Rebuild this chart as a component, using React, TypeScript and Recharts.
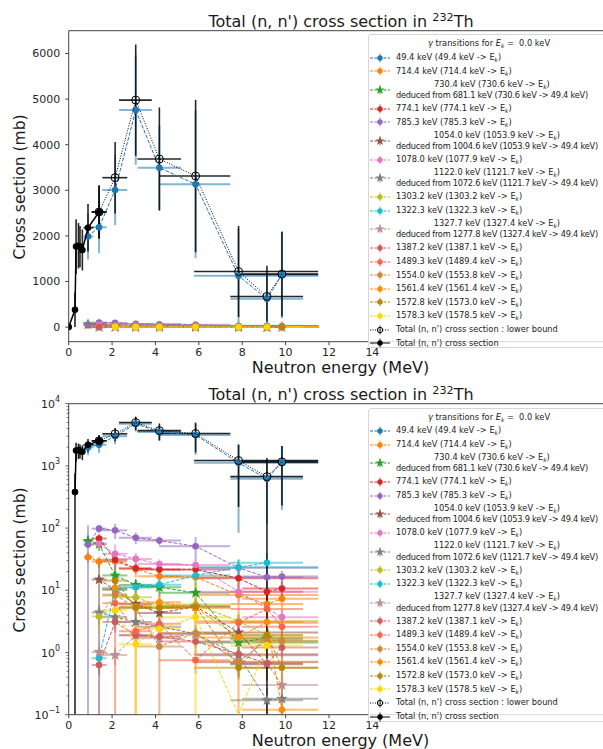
import React from 'react';
import { ScatterChart, Scatter, XAxis, YAxis, ErrorBar, ReferenceLine } from 'recharts';

// neutron energy bins (MeV) used for the gamma-ray cross sections
const energies = [0.89, 1.4, 2.14, 3.09, 4.18, 5.85, 7.83, 9.14, 9.83];
const energyLow = [0.21, 0.34, 0.59, 0.77, 1.01, 1.67, 2.05, 1.69, 1.83];
const energyHigh = [0.25, 0.35, 0.56, 0.74, 1.0, 1.6, 3.67, 1.66, 1.67];

// partial cross sections (mb) and their uncertainties, per gamma transition
const g49 = [1985, 2190, 3007, 4759, 3496, 3131, 1124, 620, 1146];
const e49 = [500, 570, 770, 1200, 930, 1620, 1040, 503, 950];
const g714 = [34, 29, 29, 22, 16.8, 16.2, 8.4, 6.0, 7.3];
const e714 = [7, 6, 8, 6, 4, 5, 9, 2.5, 7.5];
const g730 = [62, 55, 17.3, 12.2, 11.2, 9.1, 1.45, 1.7, null];
const e730 = [15, 12, 6, 3, 3, 4, 0.6, 0.8, null];
const g774 = [null, 68, 31, 22.6, 21.5, 21.5, 15.6, 9.5, 10.7];
const e774 = [null, 12, 8, 4, 4, 5, 5, 3, 3];
const g785 = [54.6, 98, 92, 70, 63, 51, 23, 16.2, 16.6];
const e785 = [56, 15, 25, 15, 10, 21, 8, 4, 4];
const g1054 = [null, 14.9, 10.2, 6.0, 4.3, 5.5, 2.1, 0.65, null];
const e1054 = [null, 16, 3, 2, 1.5, 2, 0.8, 0.3, null];
const g1078 = [null, 56, 38.6, 32, 26.5, 25.5, 9.5, null, 3.7];
const e1078 = [null, 12, 16, 8, 5, 6, 3, null, 1.2];
const g1122 = [null, 4.4, 3.7, 3.1, 2.6, 2.0, 0.9, 0.17, 0.18];
const e1122 = [null, 1.5, 1.2, 1, 0.8, 0.8, 0.4, 0.1, 0.1];
const g1303 = [null, 3.8, 8.2, 7.7, 5.6, 5.9, 3.2, 1.9, 1.5];
const e1303 = [null, 1.5, 2.5, 2, 1.5, 2, 1, 0.7, 0.5];
const g1322 = [null, 0.81, 10.5, 11.2, 12.3, 17.3, 23.5, 27.7, null];
const e1322 = [null, 0.3, 3, 3, 3, 5, 8, 12, null];
const g1327 = [null, 1.02, 0.91, 1.9, 1.7, 2.0, 0.7, 0.67, 0.3];
const e1327 = [null, 0.4, 0.3, 0.6, 0.6, 0.7, 0.3, 0.3, 0.1];
const g1387 = [null, 0.63, 3.1, 1.9, 1.8, 1.5, 0.94, 0.67, 1.2];
const e1387 = [null, 0.2, 1, 0.6, 0.6, 0.5, 0.3, 0.3, 0.4];
const g1489 = [null, null, 6.2, 2.2, 2.9, 0.75, 3.0, 5.0, 2.6];
const e1489 = [null, null, 7, 0.8, 1, 0.3, 1, 1.5, 0.8];
const g1554 = [null, null, 8.5, 5.2, 1.25, 2.05, 0.71, 1.6, 1.55];
const e1554 = [null, null, 2.5, 1.5, 7.5, 0.8, 0.3, 0.6, 0.5];
const g1561 = [null, null, 11, 5.5, 6.4, 5.2, 1.75, 3.1, 0.12];
const e1561 = [null, null, 3, 6, 2, 1.5, 0.6, 1, 0.06];
const g1572 = [null, null, 14.3, 5.3, 5.2, 5.5, 0.57, 1.9, 0.57];
const e1572 = [null, null, 4, 1.5, 1.5, 1.5, 0.2, 0.7, 0.2];
const g1578 = [null, null, 4.8, 1.36, 2.4, 3.7, 0.03, 1.3, null];
const e1578 = [null, null, 1.5, 1.4, 0.8, 13, 0.05, 0.5, null];

// total (n, n') : lower bound (open markers) and measured total
const lbY = [2524, 3277, 4978, 3686, 3314, 1219, 672, 1161];
const lbErr = [580, 785, 1220, 1130, 1670, 1000, 672, 930];
const totX = [0, 0.29, 0.34, 0.45, 0.52, 0.63, 0.89, 1.4];
const totY = [0, 380, 1765, 1785, 1765, 1692, 2180, 2524];
const totErr = [0, 380, 600, 500, 450, 450, 520, 580];
const totXLow = [0, 0.02, 0.03, 0.03, 0.03, 0.05, 0.21, 0.34];
const totXHigh = [0, 0.02, 0.03, 0.03, 0.03, 0.05, 0.25, 0.35];

const xTicks = [0, 2, 4, 6, 8, 10, 12, 14];
const linTicks = [0, 1000, 2000, 3000, 4000, 5000, 6000];
const logMajor = [0.1, 1, 10, 100, 1000, 10000];
const logMinorSteps = [2, 3, 4, 5, 6, 7, 8, 9];

const LOG_MIN = 0.1;

type Gamma = {
  level: string;
  from: string;
  via?: string;
  color: string;
  star: boolean;
  values: (number | null)[];
  errors: (number | null)[];
};

const gammas: Gamma[] = [
  { level: '49.4', from: '49.4', color: '#1f77b4', star: false, values: g49, errors: e49 },
  { level: '714.4', from: '714.4', color: '#ff7f0e', star: false, values: g714, errors: e714 },
  { level: '730.4', from: '730.6', via: '681.1', color: '#2ca02c', star: true, values: g730, errors: e730 },
  { level: '774.1', from: '774.1', color: '#d62728', star: false, values: g774, errors: e774 },
  { level: '785.3', from: '785.3', color: '#9467bd', star: false, values: g785, errors: e785 },
  { level: '1054.0', from: '1053.9', via: '1004.6', color: '#8c564b', star: true, values: g1054, errors: e1054 },
  { level: '1078.0', from: '1077.9', color: '#e377c2', star: false, values: g1078, errors: e1078 },
  { level: '1122.0', from: '1121.7', via: '1072.6', color: '#7f7f7f', star: true, values: g1122, errors: e1122 },
  { level: '1303.2', from: '1303.2', color: '#bcbd22', star: false, values: g1303, errors: e1303 },
  { level: '1322.3', from: '1322.3', color: '#17becf', star: false, values: g1322, errors: e1322 },
  { level: '1327.7', from: '1327.4', via: '1277.8', color: '#bc8f8f', star: true, values: g1327, errors: e1327 },
  { level: '1387.2', from: '1387.1', color: '#cd5c5c', star: false, values: g1387, errors: e1387 },
  { level: '1489.3', from: '1489.4', color: '#ff6347', star: false, values: g1489, errors: e1489 },
  { level: '1554.0', from: '1553.8', color: '#cd853f', star: false, values: g1554, errors: e1554 },
  { level: '1561.4', from: '1561.4', color: '#ff8c00', star: false, values: g1561, errors: e1561 },
  { level: '1572.8', from: '1573.0', color: '#b8860b', star: false, values: g1572, errors: e1572 },
  { level: '1578.3', from: '1578.5', color: '#ffd700', star: false, values: g1578, errors: e1578 },
];

type Row = { x: number; y: number; xe: [number, number]; ye: [number, number]; hidden?: boolean };

function yErr(y: number, e: number, log: boolean): [number, number] {
  if (!log) return [e, e];
  const low = y - e > LOG_MIN ? e : Math.max(y - LOG_MIN, 0);
  return [low, e];
}

function buildRows(
  xs: number[], xl: number[], xh: number[],
  ys: (number | null)[], es: (number | null)[], log: boolean,
): Row[] {
  const rows: Row[] = [];
  xs.forEach((x, i) => {
    const y = ys[i];
    const e = es[i];
    if (y == null || e == null) return;
    if (log && y <= 0) return;
    if (log && y < LOG_MIN) {
      // below the log axis: keep the connecting line, pin it to the axis
      rows.push({ x, y: LOG_MIN, xe: [0, 0], ye: [0, 0], hidden: true });
      return;
    }
    rows.push({ x, y, xe: [xl[i], xh[i]], ye: yErr(y, e, log) });
  });
  return rows;
}

function starPath(cx: number, cy: number, R: number, r: number) {
  let d = '';
  for (let i = 0; i < 10; i++) {
    const a = (-90 + i * 36) * Math.PI / 180;
    const rad = i % 2 === 0 ? R : r;
    d += (i === 0 ? 'M' : 'L') + (cx + rad * Math.cos(a)).toFixed(2) + ',' + (cy + rad * Math.sin(a)).toFixed(2);
  }
  return d + 'Z';
}

const marker = (color: string, kind: 'circle' | 'star' | 'open') => (p: any) => {
  if (p.cx == null || p.cy == null || p.payload?.hidden) return <g />;
  if (kind === 'star') return <path d={starPath(p.cx, p.cy, 6, 2.5)} fill={color} />;
  if (kind === 'open') return <circle cx={p.cx} cy={p.cy} r={4} fill="none" stroke="#000" strokeWidth={1} />;
  return <circle cx={p.cx} cy={p.cy} r={3.3} fill={color} />;
};

function LogTick(props: any) {
  const { x, y, payload } = props;
  const v = payload.value;
  const lg = Math.log10(v);
  const exp = Math.round(lg);
  const major = Math.abs(lg - exp) < 1e-6;
  const axisX = x + 5 + 3.5;
  return (
    <g>
      <line x1={axisX} x2={axisX - (major ? 3.5 : 2)} y1={y} y2={y} stroke="#444" strokeWidth={0.8} />
      {major && (
        <text x={x} y={y + 4} textAnchor="end" fontSize={11} fill="#262626">
          10<tspan dy={-6} fontSize={8}>{exp < 0 ? '\u2212' + Math.abs(exp) : exp}</tspan>
        </text>
      )}
    </g>
  );
}

const logTicks = [
  ...logMajor,
  ...logMajor.slice(0, -1).flatMap((d) => logMinorSteps.map((m) => m * d)),
].sort((a, b) => a - b);

function CrossSectionChart({ log }: { log: boolean }) {
  const lbRows = buildRows(energies.slice(1), energyLow.slice(1), energyHigh.slice(1), lbY, lbErr, log);
  const totRows = buildRows(totX, totXLow, totXHigh, totY, totErr, log);
  return (
    <ScatterChart width={620} height={380} margin={{ top: 30.7, right: 9, bottom: 8.3, left: 8.7 }}>
      <XAxis
        type="number"
        dataKey="x"
        domain={[0, 25]}
        ticks={xTicks}
        interval={0}
        allowDataOverflow
        height={30}
        tickSize={3.5}
        tickMargin={3}
        stroke="#444"
        tick={{ fontSize: 11, fill: '#262626' }}
      />
      {log ? (
        <YAxis
          type="number"
          dataKey="y"
          scale="log"
          domain={[0.1, 10000]}
          ticks={logTicks}
          interval={0}
          allowDataOverflow
          width={60}
          tickSize={3.5}
          tickMargin={5}
          tickLine={false}
          stroke="#444"
          tick={<LogTick />}
        />
      ) : (
        <YAxis
          type="number"
          dataKey="y"
          domain={[-320, 6500]}
          ticks={linTicks}
          interval={0}
          allowDataOverflow
          width={60}
          tickSize={3.5}
          tickMargin={5}
          stroke="#444"
          tick={{ fontSize: 11, fill: '#262626' }}
        />
      )}
      <ReferenceLine y={log ? 10000 : 6500} stroke="#444" />
      {gammas.map((g) => (
        <Scatter
          key={g.level}
          data={buildRows(energies, energyLow, energyHigh, g.values, g.errors, log)}
          fill={g.color}
          line={{ stroke: g.color, strokeWidth: 1, strokeDasharray: '3.7 1.6' }}
          lineType="joint"
          shape={marker(g.color, g.star ? 'star' : 'circle')}
          isAnimationActive={false}
        >
          <ErrorBar dataKey="ye" direction="y" width={0} stroke={g.color} strokeOpacity={0.55} strokeWidth={2} />
          <ErrorBar dataKey="xe" direction="x" width={0} stroke={g.color} strokeOpacity={0.55} strokeWidth={2} />
        </Scatter>
      ))}
      <Scatter
        data={lbRows}
        fill="#000"
        line={{ stroke: '#000', strokeWidth: 1, strokeDasharray: '1 1.6' }}
        lineType="joint"
        shape={marker('#000', 'open')}
        isAnimationActive={false}
      >
        <ErrorBar dataKey="ye" direction="y" width={0} stroke="#000" strokeOpacity={0.85} strokeWidth={1.6} />
        <ErrorBar dataKey="xe" direction="x" width={0} stroke="#000" strokeOpacity={0.85} strokeWidth={1.6} />
      </Scatter>
      <Scatter
        data={totRows}
        fill="#000"
        line={{ stroke: '#000', strokeWidth: 1.5 }}
        lineType="joint"
        shape={marker('#000', 'circle')}
        isAnimationActive={false}
      >
        <ErrorBar dataKey="ye" direction="y" width={0} stroke="#000" strokeOpacity={0.85} strokeWidth={1.6} />
        <ErrorBar dataKey="xe" direction="x" width={0} stroke="#000" strokeOpacity={0.85} strokeWidth={1.6} />
      </Scatter>
    </ScatterChart>
  );
}

const subK = <sub style={{ fontSize: '0.72em', verticalAlign: '-0.3em', lineHeight: 0, fontStyle: 'italic' }}>k</sub>;

function Handle({ color, star, dash, open, top }: { color: string; star?: boolean; dash?: string; open?: boolean; top: number }) {
  return (
    <svg width={20} height={12} style={{ position: 'absolute', left: 1, top }}>
      <line x1={0} x2={20} y1={6} y2={6} stroke={color} strokeWidth={1} strokeDasharray={dash} />
      <line x1={10} x2={10} y1={1.5} y2={10.5} stroke={color} strokeOpacity={0.55} strokeWidth={1.5} />
      {star ? (
        <path d={starPath(10, 6, 5, 2)} fill={color} />
      ) : (
        <circle cx={10} cy={6} r={2.7} fill={open ? 'none' : color} stroke={open ? color : 'none'} strokeWidth={1} />
      )}
    </svg>
  );
}

const SINGLE = 13.6;
const DOUBLE = 23.8;

function LegendBox({ top }: { top: number }) {
  let y = 15.6;
  const items: React.ReactNode[] = [];
  gammas.forEach((g) => {
    const h = g.via ? DOUBLE : SINGLE;
    const mid = y + h / 2;
    items.push(
      <div key={g.level}>
        <Handle color={g.color} star={g.star} dash="3 1.5" top={mid - 6} />
        <div style={{ position: 'absolute', left: 27, top: mid - (g.via ? 11.4 : 5.7), lineHeight: '11.4px', textAlign: 'center', whiteSpace: 'nowrap' }}>
          <div>{g.level} keV ({g.from} keV -&gt; E{subK})</div>
          {g.via && <div style={{ letterSpacing: -0.25 }}>deduced from {g.via} keV ({g.from} keV -&gt; 49.4 keV)</div>}
        </div>
      </div>,
    );
    y += h;
  });
  const extra = [
    { key: 'lb', label: "Total (n, n') cross section : lower bound", dash: '1 1.5', open: true },
    { key: 'tot', label: "Total (n, n') cross section", dash: undefined, open: false },
  ];
  extra.forEach((e) => {
    const mid = y + SINGLE / 2;
    items.push(
      <div key={e.key}>
        <Handle color="#000" dash={e.dash} open={e.open} top={mid - 6} />
        <div style={{ position: 'absolute', left: 27, top: mid - 5.7, lineHeight: '11.4px', whiteSpace: 'nowrap' }}>{e.label}</div>
      </div>,
    );
    y += SINGLE;
  });
  return (
    <div
      style={{
        position: 'absolute',
        left: 368,
        top,
        width: 240,
        height: 314,
        background: 'rgba(255,255,255,0.8)',
        border: '1px solid #d6d6d6',
        borderRadius: 3,
        fontSize: 8.25,
        color: '#222',
        boxSizing: 'border-box',
      }}
    >
      <div style={{ position: 'absolute', left: 0, width: 240, top: 2, lineHeight: '12px', textAlign: 'center', whiteSpace: 'nowrap' }}>
        <i>γ</i> transitions for <i>E</i>{subK} =&nbsp; 0.0 keV
      </div>
      {items}
    </div>
  );
}

function Texts({ offset }: { offset: number }) {
  return (
    <>
      <div style={{ position: 'absolute', left: 0, width: 682, top: offset + 11.5, lineHeight: '20px', fontSize: 16, textAlign: 'center', color: '#1a1a1a', whiteSpace: 'nowrap' }}>
        Total (n, n') cross section in <sup style={{ fontSize: '0.7em', lineHeight: 0 }}>232</sup>Th
      </div>
      <div style={{ position: 'absolute', left: 0, width: 681, top: offset + 359.5, lineHeight: '16px', fontSize: 16, textAlign: 'center', color: '#1a1a1a', whiteSpace: 'nowrap' }}>
        Neutron energy (MeV)
      </div>
      <div style={{ position: 'absolute', left: -80, width: 200, top: offset + 176.5, lineHeight: '20px', fontSize: 15.5, textAlign: 'center', color: '#1a1a1a', transform: 'rotate(-90deg)', whiteSpace: 'nowrap' }}>
        Cross section (mb)
      </div>
    </>
  );
}

export default function App() {
  return (
    <div style={{ position: 'absolute', left: 0, top: 0, width: 603, height: 749, overflow: 'hidden', background: '#fff', fontFamily: '"DejaVu Sans", sans-serif' }}>
      <div style={{ position: 'absolute', left: 0, top: 0 }}>
        <CrossSectionChart log={false} />
      </div>
      <Texts offset={0} />
      <LegendBox top={34.3} />
      <div style={{ position: 'absolute', left: 0, top: 373.3 }}>
        <CrossSectionChart log />
      </div>
      <Texts offset={373.3} />
      <LegendBox top={407.6} />
    </div>
  );
}
